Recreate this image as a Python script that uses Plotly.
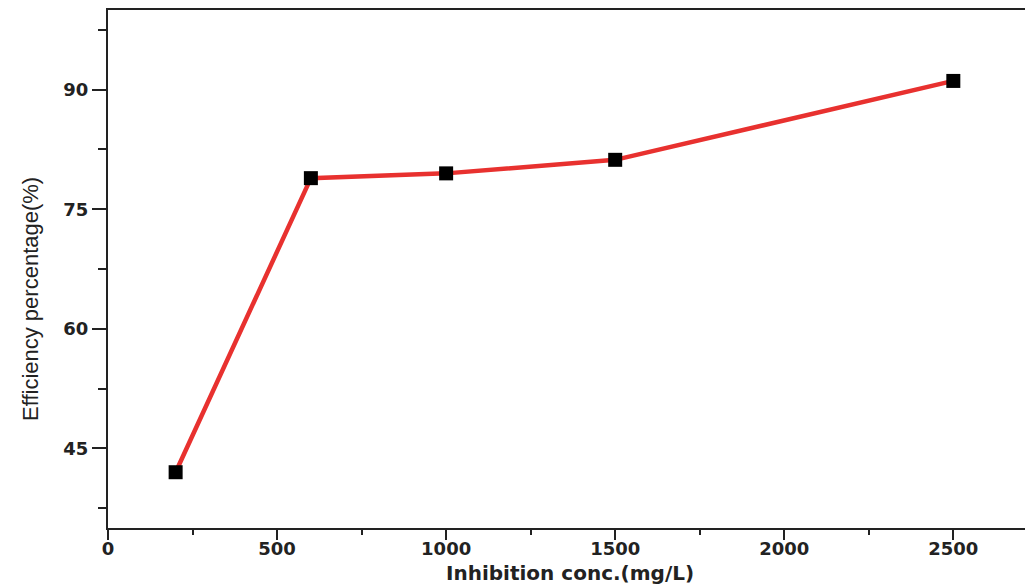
import plotly.graph_objects as go

# Inhibitor concentration (mg/L) vs. inhibition efficiency (%)
conc = [200, 600, 1000, 1500, 2500]
efficiency = [42.0, 78.9, 79.5, 81.2, 91.1]

x_ticks = [0, 500, 1000, 1500, 2000, 2500]
y_ticks = [45, 60, 75, 90]

axis_color = "#222222"
tick_font = dict(family="DejaVu Sans", size=18, color="#222222", weight="bold")

fig = go.Figure()
fig.add_trace(go.Scatter(
    x=conc, y=efficiency,
    mode="lines+markers",
    line=dict(color="#e8312f", width=4.5),
    marker=dict(symbol="square", size=14, color="black", line=dict(width=0)),
    showlegend=False,
))

fig.update_layout(
    width=1025, height=586,
    margin=dict(l=108, r=0, t=10, b=58),
    paper_bgcolor="white",
    plot_bgcolor="white",
)

fig.update_xaxes(
    range=[0, 2712],
    tickvals=x_ticks,
    ticktext=[str(v) for v in x_ticks],
    ticks="outside", ticklen=10, tickwidth=2, tickcolor=axis_color,
    minor=dict(dtick=250, tick0=0, ticks="outside", ticklen=5, tickwidth=2, tickcolor=axis_color),
    showline=True, linecolor=axis_color, linewidth=2, mirror=True,
    showgrid=False, zeroline=False,
    tickfont=tick_font,
    ticklabelstandoff=-7,
    automargin=False,
)

fig.update_yaxes(
    range=[35, 100],
    tickvals=y_ticks,
    ticktext=[str(v) for v in y_ticks],
    ticks="outside", ticklen=14, tickwidth=2, tickcolor=axis_color,
    minor=dict(dtick=7.5, tick0=37.5, ticks="outside", ticklen=8, tickwidth=2, tickcolor=axis_color),
    showline=True, linecolor=axis_color, linewidth=2, mirror=False,
    showgrid=False, zeroline=False,
    tickfont=tick_font,
    ticklabelstandoff=0,
    automargin=False,
)

# Axis titles placed as annotations for exact positioning
fig.add_annotation(
    text="Inhibition conc.(mg/L)",
    xref="paper", yref="paper",
    x=(570 - 108) / 917, y=-(573 - 528) / 518,
    xanchor="center", yanchor="middle",
    showarrow=False,
    font=dict(family="DejaVu Sans", size=20, color="#222222", weight="bold"),
)
fig.add_annotation(
    text="Efficiency percentage(%)",
    xref="paper", yref="paper",
    x=(30 - 108) / 917, y=(528 - 299) / 518,
    xanchor="center", yanchor="middle",
    textangle=-90,
    showarrow=False,
    font=dict(family="Liberation Sans", size=22, color="#222222"),
)

fig.write_html("out.html")
